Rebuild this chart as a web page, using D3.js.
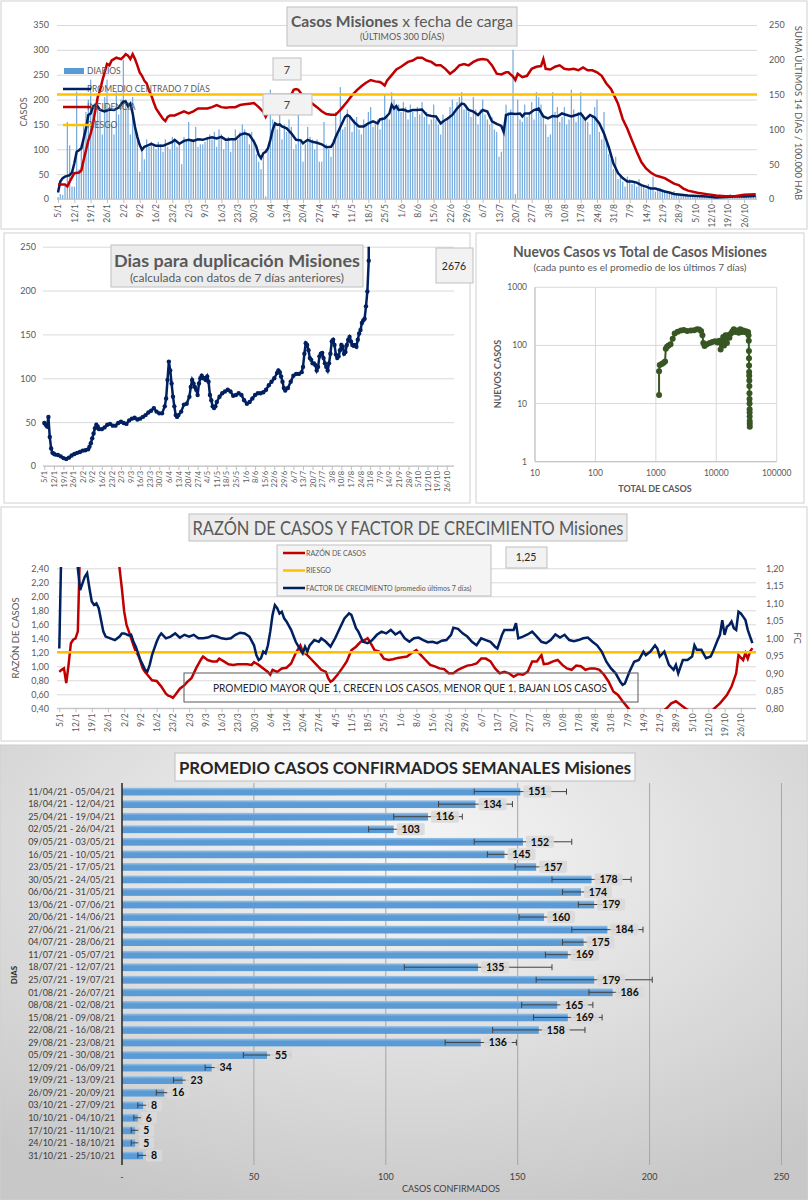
<!DOCTYPE html>
<html lang="es">
<head>
<meta charset="utf-8">
<script src="https://cdn.jsdelivr.net/npm/d3@7"></script>
<style>
body { margin: 0; background: #fff; }
text { font-family: Lato, "Open Sans", sans-serif; }
</style>
</head>
<body>
<div id="chart"></div>
<script>
// ---------- data ----------
const weekTicks = ["5/1","12/1","19/1","26/1","2/2","9/2","16/2","23/2","2/3","9/3","16/3","23/3","30/3","6/4","13/4","20/4","27/4","4/5","11/5","18/5","25/5","1/6","8/6","15/6","22/6","29/6","6/7","13/7","20/7","27/7","3/8","10/8","17/8","24/8","31/8","7/9","14/9","21/9","28/9","5/10","12/10","19/10","26/10"];

// casos diarios, 5/1 .. 31/10 (300 dias)
const diarios = [
  4,10,8,30,155,108,25, 25,216,60,110,150,175,200, 240,190,160,210,175,130,205,
  240,185,150,130,215,170,200, 280,200,195,130,205,150,125, 55,95,80,120,105,115,110,
  100,115,110,95,120,105,100, 125,120,105,110,70,125,120, 155,120,115,145,105,110,110,
  115,125,130,120,135,105,140, 130,100,115,125,95,120,140, 120,135,150,140,130,110,135,
  120,90,75,60,95,5,100, 220,160,150,140,175,120,150, 135,160,145,100,110,170,120,
  75,110,145,125,120,100,120, 75,75,155,110,100,85,120, 175,130,225,140,145,180,165,
  135,160,165,140,130,160,150, 175,185,145,150,160,140,165, 210,165,160,215,200,185,190,
  175,195,185,160,190,175,165, 185,170,195,165,175,150,160, 190,160,150,130,170,155,165,
  185,200,175,195,205,215,180, 190,175,165,205,180,150,180, 200,170,160,150,165,140,135,
  85,95,130,190,175,180,300, 10,200,160,155,190,165,175, 195,160,215,205,190,165,150,
  125,130,215,175,185,155,165, 185,150,160,220,180,155,175, 215,170,160,155,130,165,185,
  200,135,120,175,115,90,80, 60,85,40,50,35,25,45, 40,30,35,25,40,30,28,
  20,30,25,45,15,20,22, 15,18,12,14,10,16,12, 10,8,9,6,7,8,5,
  6,5,7,6,4,8,5, 4,5,3,6,4,3,5, 6,10,4,5,3,6,5, 8,7,10,6,9,6
];

// [dia, valor] promedio centrado 7 dias
const promedio7 = [[0,13],[1,35],[2,42],[3,45],[5,48],[6,53],[7,72],[8,95],[9,98],[10,102],[12,142],[13,169],[14,172],[15,186],[16,189],[17,186],[18,179],[20,176],[22,180],[24,179],[26,184],[28,196],[29,196],[30,187],[31,192],[32,172],[33,145],[34,125],[35,109],[36,99],[37,105],[38,107],[40,111],[42,107],[45,107],[47,111],[49,115],[50,119],[52,111],[54,117],[56,119],[58,117],[60,120],[62,119],[64,122],[66,124],[68,122],[70,125],[72,119],[74,120],[76,120],[78,129],[80,132],[82,129],[84,115],[85,105],[86,89],[87,82],[88,92],[89,95],[90,102],[91,119],[92,139],[93,152],[94,149],[95,150],[96,146],[98,142],[100,132],[102,119],[104,118],[105,112],[107,119],[109,115],[111,113],[113,110],[115,104],[117,105],[118,112],[119,125],[121,145],[123,165],[124,169],[125,166],[127,154],[129,146],[131,146],[133,152],[135,156],[137,152],[138,160],[140,162],[142,172],[143,189],[144,182],[145,187],[146,179],[148,180],[150,176],[152,179],[154,179],[156,180],[158,169],[160,167],[162,166],[164,152],[165,156],[167,162],[169,169],[171,182],[173,192],[174,191],[176,179],[178,176],[180,169],[182,179],[184,176],[186,156],[188,151],[190,147],[191,135],[192,169],[194,172],[196,171],[198,172],[199,166],[200,172],[202,172],[204,179],[206,182],[208,166],[210,162],[212,167],[214,166],[216,172],[218,169],[220,166],[222,169],[224,172],[226,160],[228,169],[230,164],[232,152],[234,132],[236,105],[238,72],[240,52],[242,42],[244,35],[246,35],[248,33],[250,28],[252,25],[254,21],[256,21],[258,18],[260,15],[262,13],[264,10],[266,9],[270,7],[274,6],[278,5],[282,3],[286,4],[290,5],[294,5],[299,6]];

// [dia, valor] incidencia 14 dias / 100.000 hab
const incidencia = [[0,21],[3,21],[4,18],[5,25],[7,37],[9,38],[10,41],[11,56],[13,84],[14,94],[15,108],[16,127],[17,146],[18,156],[19,170],[20,182],[21,194],[22,192],[23,199],[24,201],[25,203],[27,201],[28,204],[29,208],[30,206],[31,201],[32,208],[33,201],[34,192],[35,182],[36,177],[37,170],[38,166],[39,156],[40,149],[41,139],[42,130],[43,125],[44,120],[45,115],[46,112],[47,118],[48,120],[50,120],[52,123],[54,126],[56,123],[58,126],[60,130],[62,130],[64,130],[66,132],[68,135],[70,132],[72,131],[74,132],[76,132],[78,135],[80,136],[82,137],[84,138],[86,132],[88,125],[89,118],[90,125],[92,135],[94,140],[96,142],[98,145],[100,150],[101,157],[102,158],[103,157],[105,148],[107,140],[109,137],[111,132],[113,126],[115,122],[117,121],[119,121],[121,128],[122,132],[124,140],[126,149],[128,156],[130,162],[132,167],[134,171],[136,169],[138,168],[139,166],[140,163],[141,170],[143,178],[145,186],[147,190],[150,197],[152,199],[154,203],[156,203],[158,199],[160,197],[162,192],[164,192],[166,187],[168,180],[170,185],[172,192],[174,194],[176,192],[178,197],[180,200],[182,201],[184,200],[186,192],[188,180],[190,179],[192,182],[193,182],[195,176],[196,171],[197,180],[199,175],[201,177],[203,187],[205,190],[207,191],[208,201],[209,187],[211,186],[213,190],[215,192],[217,187],[219,186],[221,187],[223,185],[225,189],[227,185],[229,185],[231,182],[233,177],[235,166],[237,158],[238,151],[240,137],[242,115],[244,101],[246,84],[248,68],[250,53],[252,44],[254,38],[256,34],[258,32],[260,30],[262,26],[264,22],[266,20],[268,15],[270,12],[274,9],[278,7],[282,5],[286,4],[290,4],[294,6],[299,7]];
const riesgoInc = 150;

// [dia, valor] dias para duplicacion
const duplicacion = [[0,49],[1,47],[2,45],[3,56],[4,33],[5,20],[6,15],[7,14],[8,13],[10,12.5],[12,11],[14,9],[16,8],[18,9.5],[20,12],[22,13.7],[24,15],[26,16],[28,17.5],[30,18],[32,19],[33,22],[34,26],[35,31.5],[36,37],[37,43],[38,47],[39,45],[40,42],[42,42],[44,44],[46,47],[48,48],[50,46],[52,46],[54,49],[56,50.5],[58,49],[60,48],[62,52],[64,54],[66,55],[68,53],[70,54],[72,56],[74,58],[76,61],[78,63],[80,66],[82,62],[84,60],[86,60],[88,68],[89,77],[90,98],[91,119],[92,109],[93,94],[94,79],[95,68],[96,58],[97,56],[98,58],[100,62],[102,70],[104,71],[106,79],[107,90],[108,98],[109,94],[110,90],[111,87],[112,81],[113,94],[114,100],[115,103],[116,100],[117,100],[118,98],[119,102],[120,96],[121,81],[122,75],[123,68],[124,66],[125,68],[126,73],[128,79],[130,83],[132,85],[134,87],[136,85],[138,80],[140,81],[142,83],[144,81],[146,75],[148,71],[150,73],[152,77],[154,81],[156,83],[158,83],[160,84],[162,87],[164,92],[166,96],[168,100],[170,106],[171,109],[172,107],[173,102],[174,96],[175,89],[176,86],[178,89],[180,96],[182,103],[184,105],[186,105],[188,107],[189,113],[190,128],[191,140],[192,138],[193,132],[194,123],[195,121],[196,117],[197,117],[198,115],[199,109],[200,113],[201,125],[202,128],[203,129],[204,123],[205,117],[206,113],[207,109],[208,117],[209,128],[210,142],[211,144],[212,138],[213,127],[214,123],[215,125],[216,132],[217,138],[218,136],[219,128],[220,130],[221,138],[222,144],[223,147],[224,142],[225,138],[226,137],[227,138],[228,136],[229,144],[230,151],[231,155],[232,163],[233,166],[234,168],[235,182],[236,199],[237,234],[238,2676]];
const duplicacionUltimo = "2676";

// nuevos casos (prom. 7 dias) vs total de casos
const scatTotal = [1130,1130,1160,1250,1330,1420,1460,1530,1620,1750,1900,2050,2300,2600,2900,3300,3800,4300,4800,5200,5600,5900,6100,6400,7000,7800,8600,9500,10500,11200,11800,12300,13000,13500,14200,15000,15700,16500,17500,18500,19500,20500,22000,23500,25000,26500,28000,29500,31000,32500,33500,34200,34500,34700,34800,34900,35000,35100,35200,35300,35400,35500,35550,35600,35650,35700,35750,35800,35850];
const scatNuevos = [14,36,46,48,50,53,88,95,100,105,130,160,172,180,185,178,180,182,190,188,178,150,110,98,105,110,115,118,112,120,85,115,140,100,150,110,150,135,160,175,190,170,180,165,190,170,180,170,175,165,170,150,120,80,60,45,35,30,25,20,15,12,10,8,7,6,5,4.5,4];

// [dia, valor] razon de casos (eje izq.)
const razon = [[0,0.92],[1,0.95],[2,0.97],[3,0.76],[4,1.02],[5,1.33],[6,1.38],[7,1.40],[8,1.50],[9,2.8],[11,4.2],[14,5.0],[18,4.5],[22,3.5],[25,2.7],[26,2.4],[27,2.11],[28,1.78],[29,1.59],[30,1.5],[31,1.4],[32,1.30],[33,1.21],[34,1.16],[35,1.07],[36,0.97],[37,0.92],[38,0.88],[40,0.80],[42,0.79],[44,0.71],[46,0.61],[47,0.58],[48,0.57],[49,0.55],[50,0.59],[52,0.68],[54,0.73],[55,0.77],[57,0.83],[59,0.97],[61,1.09],[62,1.14],[64,1.09],[66,1.07],[68,1.07],[69,1.11],[71,1.07],[73,1.03],[75,1.02],[77,1.03],[79,1.03],[81,1.03],[83,1.02],[84,1.06],[86,1.02],[88,0.97],[90,0.92],[91,0.88],[92,0.95],[94,0.92],[96,0.97],[98,0.98],[100,1.04],[102,1.19],[104,1.30],[105,1.21],[107,1.16],[109,1.09],[111,1.02],[113,0.95],[115,0.92],[116,0.83],[117,0.78],[118,0.80],[120,0.88],[122,0.97],[124,1.07],[126,1.23],[128,1.28],[130,1.35],[132,1.38],[133,1.40],[134,1.35],[136,1.23],[138,1.21],[140,1.11],[142,1.09],[144,1.10],[146,1.12],[148,1.13],[150,1.14],[152,1.19],[154,1.23],[156,1.16],[158,1.09],[160,1.02],[162,1.00],[164,0.97],[166,0.96],[168,0.90],[170,0.90],[172,0.95],[174,0.98],[176,1.01],[178,1.02],[180,1.04],[182,1.11],[184,1.11],[186,1.07],[188,0.97],[190,0.90],[192,0.92],[194,0.90],[196,0.85],[198,0.89],[200,0.88],[202,0.92],[204,1.07],[206,1.07],[208,1.16],[209,1.03],[211,1.04],[213,1.07],[215,1.09],[217,1.02],[219,0.97],[221,0.95],[223,1.01],[225,1.00],[227,0.95],[229,0.97],[231,0.97],[233,0.95],[235,0.88],[237,0.78],[239,0.64],[241,0.59],[243,0.50],[245,0.42],[246,0.38],[248,0.30],[252,0.25],[256,0.28],[260,0.35],[262,0.40],[264,0.47],[266,0.50],[268,0.45],[270,0.40],[274,0.32],[278,0.30],[282,0.38],[285,0.47],[288,0.59],[290,0.71],[292,0.90],[293,1.16],[295,1.09],[296,1.19],[297,1.11],[298,1.21],[299,1.26]];
const riesgoRazon = 1.2;
const razonCaja = "1,25";

// [dia, valor] factor de crecimiento (eje der.)
const factorCrec = [[0,0.971],[1,1.30],[7,1.30],[8,1.20],[9,1.138],[10,1.157],[11,1.176],[12,1.186],[13,1.143],[14,1.105],[15,1.095],[16,1.10],[17,1.086],[18,1.052],[19,1.019],[20,1.005],[22,1.0],[24,0.995],[26,1.005],[27,1.014],[28,1.014],[30,1.008],[31,1.01],[32,0.99],[33,0.976],[34,0.957],[35,0.938],[36,0.924],[37,0.91],[38,0.905],[39,0.924],[40,0.952],[41,0.971],[42,0.99],[43,1.005],[44,1.014],[46,1.0],[48,1.005],[50,1.014],[52,1.002],[54,1.01],[56,1.005],[58,1.01],[60,1.0],[62,1.0],[64,1.002],[66,1.008],[68,1.005],[70,1.0],[72,0.998],[74,1.0],[76,1.01],[78,1.016],[80,1.014],[82,1.005],[84,0.98],[85,0.952],[86,0.938],[87,0.943],[88,0.962],[89,0.957],[90,0.98],[91,1.019],[92,1.067],[93,1.095],[94,1.086],[95,1.071],[96,1.076],[97,1.057],[98,1.048],[100,1.024],[102,0.99],[104,0.967],[105,0.957],[106,0.976],[107,0.962],[108,0.98],[110,0.995],[112,0.99],[113,1.0],[115,0.99],[117,0.976],[119,1.0],[121,1.029],[123,1.057],[125,1.071],[126,1.067],[128,1.029],[129,1.019],[131,0.99],[133,0.986],[135,0.995],[137,1.01],[139,1.019],[141,1.014],[143,1.024],[145,1.011],[147,1.019],[149,1.0],[151,0.99],[153,1.0],[155,1.002],[157,0.995],[159,0.989],[161,0.99],[163,0.986],[165,0.993],[167,0.995],[169,1.01],[170,1.03],[172,1.027],[174,1.014],[176,1.005],[178,0.99],[180,0.98],[182,1.0],[184,0.995],[186,0.99],[188,0.976],[189,0.971],[191,1.01],[192,1.024],[194,1.024],[196,1.024],[197,1.043],[198,1.0],[200,1.005],[202,1.011],[204,1.019],[206,1.005],[208,0.99],[210,0.986],[212,0.995],[214,1.011],[216,1.002],[218,1.01],[220,0.995],[222,0.992],[224,0.995],[226,1.0],[228,1.002],[230,0.99],[232,0.98],[234,0.962],[236,0.933],[238,0.914],[240,0.90],[242,0.876],[243,0.867],[244,0.871],[246,0.905],[248,0.933],[250,0.938],[252,0.962],[253,0.952],[255,0.962],[257,0.98],[258,0.971],[259,0.948],[261,0.962],[263,0.924],[265,0.91],[266,0.924],[267,0.90],[269,0.938],[271,0.938],[273,0.948],[274,0.98],[275,0.967],[277,0.967],[279,0.943],[281,0.948],[282,0.962],[284,0.995],[285,1.01],[286,1.052],[287,1.01],[288,1.033],[289,1.038],[290,1.048],[291,1.029],[292,1.024],[293,1.076],[294,1.071],[295,1.062],[296,1.052],[297,1.024],[298,1.005],[299,0.986]];

// promedio semanal
const semanas = ["11/04/21 - 05/04/21","18/04/21 - 12/04/21","25/04/21 - 19/04/21","02/05/21 - 26/04/21","09/05/21 - 03/05/21","16/05/21 - 10/05/21","23/05/21 - 17/05/21","30/05/21 - 24/05/21","06/06/21 - 31/05/21","13/06/21 - 07/06/21","20/06/21 - 14/06/21","27/06/21 - 21/06/21","04/07/21 - 28/06/21","11/07/21 - 05/07/21","18/07/21 - 12/07/21","25/07/21 - 19/07/21","01/08/21 - 26/07/21","08/08/21 - 02/08/21","15/08/21 - 09/08/21","22/08/21 - 16/08/21","29/08/21 - 23/08/21","05/09/21 - 30/08/21","12/09/21 - 06/09/21","19/09/21 - 13/09/21","26/09/21 - 20/09/21","03/10/21 - 27/09/21","10/10/21 - 04/10/21","17/10/21 - 11/10/21","24/10/21 - 18/10/21","31/10/21 - 25/10/21"];
const promSemanal = [151,134,116,103,152,145,157,178,174,179,160,184,175,169,135,179,186,165,169,158,136,55,34,23,16,8,6,5,5,8];
const errSemanal = [17.5,14,13,9.5,18.5,6.5,8,15,7,6,9.5,13.5,8,8.5,28,22,9,13.5,13,17.5,13.5,9,2.5,3.5,3,2,1.5,1.5,1.5,2];
const semTicks = [0,50,100,150,200,250];

// ---------- drawing ----------
const navy = "#002060", red = "#c00000", orange = "#ffc000", blue = "#5b9bd5", green = "#375623";
const gray = "#595959", grid = "#d9d9d9";
const fmtC = v => d3.format(".2f")(v).replace(".", ",");

const svg = d3.select("#chart").append("svg").attr("width", 808).attr("height", 1200);
const defs = svg.append("defs");

function frame(x, y, w, h) {
  svg.append("rect").attr("x", x).attr("y", y).attr("width", w).attr("height", h)
    .attr("fill", "#fff").attr("stroke", "#d0d0d0");
}
function box(x, y, w, h, fill, stroke) {
  return svg.append("rect").attr("x", x).attr("y", y).attr("width", w).attr("height", h)
    .attr("fill", fill || "#ececec").attr("stroke", stroke || "#bfbfbf");
}
function label(x, y, txt, size, opts) {
  opts = opts || {};
  const t = svg.append("text").attr("x", x).attr("y", y).text(txt)
    .attr("font-size", size).attr("fill", opts.fill || gray)
    .attr("text-anchor", opts.anchor || "middle")
    .attr("font-weight", opts.bold ? "bold" : "normal");
  if (opts.len) t.attr("textLength", opts.len).attr("lengthAdjust", "spacingAndGlyphs");
  if (opts.rot) t.attr("transform", `rotate(${opts.rot},${x},${y})`);
  return t;
}
function gridAxis(g, size) {
  g.select(".domain").remove();
  g.selectAll(".tick line").attr("stroke", grid);
  g.selectAll(".tick text").attr("fill", gray).attr("font-size", size);
}
function dayAxis(x, y, size, xa, xb) {
  const g = svg.append("g").attr("transform", `translate(0,${y})`)
    .call(d3.axisBottom(x).tickValues(weekTicks.map((t, i) => i * 7))
      .tickFormat((d, i) => weekTicks[i]).tickSize(4).tickSizeOuter(0));
  g.select(".domain").attr("stroke", "#bfbfbf").attr("d", `M${xa},0H${xb}`);
  g.selectAll(".tick line").attr("stroke", "#bfbfbf");
  g.selectAll(".tick text").attr("fill", gray).attr("font-size", size)
    .attr("transform", "rotate(-90)").attr("text-anchor", "end")
    .attr("x", -5).attr("y", 0).attr("dy", "0.35em");
}
function clip(id, x, y, w, h) {
  defs.append("clipPath").attr("id", id).append("rect")
    .attr("x", x).attr("y", y).attr("width", w).attr("height", h);
  return `url(#${id})`;
}

frame(1, 1, 806, 228);
frame(4, 233, 466, 270);
frame(476, 233, 328, 270);
frame(1, 507, 806, 234);

// ===== panel 1: casos x fecha de carga =====
const x1 = d3.scaleLinear().domain([0, 299]).range([58, 755.7]);
const y1 = d3.scaleLinear().domain([0, 350]).range([199, 25]);
const y1r = d3.scaleLinear().domain([0, 250]).range([199, 25]);

svg.append("g").attr("transform", "translate(57,0)")
  .call(d3.axisLeft(y1).ticks(7).tickSize(-700).tickPadding(8)).call(g => gridAxis(g, 9));
svg.append("g").attr("transform", "translate(757,0)")
  .call(d3.axisRight(y1r).ticks(5).tickSize(0).tickPadding(12)).call(g => gridAxis(g, 9));

svg.append("g").selectAll("rect").data(diarios).join("rect")
  .attr("x", (d, i) => x1(i) - 0.6).attr("width", 1.2)
  .attr("y", d => y1(d)).attr("height", d => y1(0) - y1(d)).attr("fill", "#73a9dd");

dayAxis(x1, 199, 8.5, 57, 757);

svg.append("path").datum(promedio7).attr("fill", "none").attr("stroke", navy).attr("stroke-width", 2.5)
  .attr("d", d3.line().x(d => x1(d[0])).y(d => y1(d[1])));
svg.append("path").datum(incidencia).attr("fill", "none").attr("stroke", red).attr("stroke-width", 2.5)
  .attr("d", d3.line().x(d => x1(d[0])).y(d => y1r(d[1])));
svg.append("line").attr("x1", 57).attr("x2", 757).attr("y1", y1r(riesgoInc)).attr("y2", y1r(riesgoInc))
  .attr("stroke", orange).attr("stroke-width", 2.5);

label(27, 112, "CASOS", 9, { rot: -90 });
label(795, 113, "SUMA  ÚLTIMOS 14 DÍAS / 100.000 HAB", 9.5, { rot: 90 });

box(287, 7, 230, 39);
const t1 = label(402, 27, "", 16, { len: 222 });
t1.append("tspan").attr("font-weight", "bold").text("Casos  Misiones");
t1.append("tspan").text("  x fecha  de carga");
label(402, 40, "(ÚLTIMOS 300 DÍAS)", 9);

const leg1 = ["DIARIOS", "PROMEDIO CENTRADO 7 DÍAS", "INCIDENCIA", "RIESGO"];
const legCol1 = [blue, navy, red, orange];
leg1.forEach((t, i) => {
  const yy = 71 + i * 18;
  label(87, yy + 3, t, 8.5, { anchor: "start" });
  if (i === 0) svg.append("rect").attr("x", 64).attr("y", yy - 3).attr("width", 20).attr("height", 6).attr("fill", blue);
  else svg.append("line").attr("x1", 63).attr("x2", 91).attr("y1", yy).attr("y2", yy)
    .attr("stroke", legCol1[i]).attr("stroke-width", 2.5);
});

box(273, 58, 28, 22, "#f2f2f2");
label(287, 74, "7", 11, { fill: "#404040" });
box(263, 94, 49, 21, "#f2f2f2");
label(287, 109, "7", 11, { fill: "#404040" });

// ===== panel 2: dias para duplicacion =====
const x2 = d3.scaleLinear().domain([0, 299]).range([44.3, 453.6]);
const y2 = d3.scaleLinear().domain([0, 250]).range([466, 246.7]);

svg.append("g").attr("transform", "translate(43,0)")
  .call(d3.axisLeft(y2).ticks(5).tickSize(-411).tickPadding(7)).call(g => gridAxis(g, 9));
dayAxis(x2, 466, 7.5, 43, 454);

const cp2 = clip("cp2", 40, 246.7, 420, 222);
const g2 = svg.append("g").attr("clip-path", cp2);
g2.append("path").datum(duplicacion).attr("fill", "none").attr("stroke", navy).attr("stroke-width", 2.5)
  .attr("d", d3.line().x(d => x2(d[0])).y(d => y2(d[1])));
g2.selectAll("circle").data(duplicacion).join("circle")
  .attr("cx", d => x2(d[0])).attr("cy", d => y2(d[1])).attr("r", 2.2).attr("fill", navy);

box(111, 245, 252, 42, "#ececec");
label(237, 267, "Dias para duplicación Misiones", 17, { bold: true, len: 246 });
label(237, 282, "(calculada con datos de 7 días anteriores)", 11, { len: 214 });
box(436, 248, 37, 35, "#f2f2f2");
label(454, 270, duplicacionUltimo, 10.5, { fill: "#262626" });

// ===== panel 3: nuevos vs total =====
const x3 = d3.scaleLog().domain([10, 1e5]).range([535, 776.7]);
const y3 = d3.scaleLog().domain([1, 1000]).range([461.7, 287.3]);
const g3 = svg.append("g");
g3.selectAll(".gx").data([10, 100, 1000, 10000, 100000]).join("line")
  .attr("x1", d => x3(d)).attr("x2", d => x3(d)).attr("y1", 287.3).attr("y2", 461.7).attr("stroke", grid);
g3.selectAll(".gy").data([1, 10, 100, 1000]).join("line")
  .attr("y1", d => y3(d)).attr("y2", d => y3(d)).attr("x1", 535).attr("x2", 776.7).attr("stroke", grid);
g3.append("line").attr("x1", 535).attr("x2", 776.7).attr("y1", 461.7).attr("y2", 461.7).attr("stroke", "#bfbfbf");
g3.append("line").attr("x1", 535).attr("x2", 535).attr("y1", 287.3).attr("y2", 461.7).attr("stroke", "#bfbfbf");
[10, 100, 1000, 10000, 100000].forEach(v => label(x3(v), 476, d3.format("d")(v), 8.5));
[1, 10, 100, 1000].forEach(v => label(527, y3(v) + 3, d3.format("d")(v), 8.5, { anchor: "end" }));
g3.append("path").datum(scatTotal.map((t, i) => [t, scatNuevos[i]])).attr("fill", "none")
  .attr("stroke", green).attr("stroke-width", 2)
  .attr("d", d3.line().x(d => x3(d[0])).y(d => y3(d[1])));
g3.selectAll("circle").data(scatTotal).join("circle")
  .attr("cx", d => x3(d)).attr("cy", (d, i) => y3(scatNuevos[i])).attr("r", 3).attr("fill", green);
label(640, 257, "Nuevos Casos vs Total de Casos Misiones", 14.5, { bold: true, len: 254 });
label(640, 271, "(cada punto es el promedio de los últimos 7 días)", 9.5, { len: 213 });
label(655, 492, "TOTAL DE CASOS", 9, { bold: true });
label(501, 374, "NUEVOS  CASOS", 9, { bold: true, rot: -90 });

// ===== panel 4: razon de casos y factor de crecimiento =====
const x4 = d3.scaleLinear().domain([0, 299]).range([59.3, 752.4]);
const y4 = d3.scaleLinear().domain([0.4, 2.4]).range([708.3, 568.3]);
const y4r = d3.scaleLinear().domain([0.8, 1.2]).range([708.3, 568.3]);

svg.append("g").attr("transform", "translate(57,0)")
  .call(d3.axisLeft(y4).ticks(10).tickFormat(fmtC).tickSize(-699).tickPadding(8)).call(g => gridAxis(g, 9));
svg.append("g").attr("transform", "translate(756,0)")
  .call(d3.axisRight(y4r).ticks(8).tickFormat(fmtC).tickSize(0).tickPadding(10)).call(g => gridAxis(g, 9));
dayAxis(x4, 708.3, 8.5, 57, 756);

const cp4 = clip("cp4", 57, 567, 700, 142);
const g4 = svg.append("g").attr("clip-path", cp4);
g4.append("path").datum(razon).attr("fill", "none").attr("stroke", red).attr("stroke-width", 2.5)
  .attr("d", d3.line().x(d => x4(d[0])).y(d => y4(d[1])));
g4.append("line").attr("x1", 57).attr("x2", 756).attr("y1", y4(riesgoRazon)).attr("y2", y4(riesgoRazon))
  .attr("stroke", orange).attr("stroke-width", 2.5);
g4.append("path").datum(factorCrec).attr("fill", "none").attr("stroke", navy).attr("stroke-width", 2.5)
  .attr("d", d3.line().x(d => x4(d[0])).y(d => y4r(d[1])));

label(19, 638, "RAZÓN  DE CASOS", 9.5, { rot: -90 });
label(794, 638, "FC", 9.5, { rot: 90 });

box(189, 514, 438, 27, "#ececec");
label(408, 535, "RAZÓN DE CASOS Y FACTOR DE CRECIMIENTO Misiones", 18.5, { len: 431 });

box(277, 545, 214, 51, "#f4f4f4");
const leg4 = ["RAZÓN DE CASOS", "RIESGO", "FACTOR DE CRECIMIENTO (promedio últimos 7 días)"];
const legCol4 = [red, orange, navy];
leg4.forEach((t, i) => {
  const yy = 553 + i * 17.5;
  svg.append("line").attr("x1", 283).attr("x2", 305).attr("y1", yy).attr("y2", yy)
    .attr("stroke", legCol4[i]).attr("stroke-width", 2.5);
  label(306, yy + 2.5, t, 7, { anchor: "start" });
});
box(506, 547, 41, 21, "#f2f2f2");
label(526, 561, razonCaja, 10.5, { fill: "#262626" });

svg.append("rect").attr("x", 184).attr("y", 673).attr("width", 454).attr("height", 29)
  .attr("fill", "none").attr("stroke", "#595959");
label(410, 692, "PROMEDIO MAYOR QUE 1, CRECEN LOS CASOS, MENOR QUE 1, BAJAN LOS CASOS", 11.5, { fill: "#262626", len: 394 });

// ===== panel 5: promedio casos confirmados semanales =====
const rg = defs.append("radialGradient").attr("id", "bg5").attr("cx", "50%").attr("cy", "25%").attr("r", "80%");
rg.append("stop").attr("offset", "0%").attr("stop-color", "#f7f7f7");
rg.append("stop").attr("offset", "100%").attr("stop-color", "#c8c8c8");
const lg = defs.append("linearGradient").attr("id", "bar5").attr("x1", 0).attr("x2", 0).attr("y1", 0).attr("y2", 1);
lg.append("stop").attr("offset", "0%").attr("stop-color", "#9cc3e6");
lg.append("stop").attr("offset", "35%").attr("stop-color", "#5b9bd5");
lg.append("stop").attr("offset", "100%").attr("stop-color", "#5b9bd5");

svg.append("rect").attr("x", 0).attr("y", 745).attr("width", 808).attr("height", 455)
  .attr("fill", "url(#bg5)").attr("stroke", "#d0d0d0");

const x5 = d3.scaleLinear().domain([0, 250]).range([122, 781.5]);
const y5 = d3.scaleBand().domain(semanas).range([782.95, 1164.05]).padding(0.38);

svg.append("g").selectAll("line").data(semTicks.slice(1)).join("line")
  .attr("x1", d => x5(d)).attr("x2", d => x5(d)).attr("y1", 783).attr("y2", 1165).attr("stroke", "#a6a6a6");
semTicks.forEach(v => label(x5(v), 1180, v === 0 ? "-" : String(v), 9, { fill: "#404040" }));

svg.append("g").selectAll("rect").data(promSemanal).join("rect")
  .attr("x", x5(0)).attr("y", (d, i) => y5(semanas[i]))
  .attr("width", d => x5(d) - x5(0)).attr("height", y5.bandwidth()).attr("fill", "url(#bar5)");

svg.append("line").attr("x1", x5(0)).attr("x2", x5(0)).attr("y1", 783).attr("y2", 1165)
  .attr("stroke", "#262626").attr("stroke-width", 1.5);

semanas.forEach((s, i) => label(115, y5(s) + y5.bandwidth() / 2 + 3.2, s, 9, { anchor: "end", fill: "#404040" }));

const eb = svg.append("g").attr("stroke", "#404040").attr("stroke-width", 1);
promSemanal.forEach((v, i) => {
  const cy = y5(semanas[i]) + y5.bandwidth() / 2;
  const a = x5(v - errSemanal[i]), b = x5(v + errSemanal[i]);
  eb.append("line").attr("x1", a).attr("x2", b).attr("y1", cy).attr("y2", cy);
  eb.append("line").attr("x1", a).attr("x2", a).attr("y1", cy - 3).attr("y2", cy + 3);
  eb.append("line").attr("x1", b).attr("x2", b).attr("y1", cy - 3).attr("y2", cy + 3);
});
promSemanal.forEach((v, i) => {
  const cy = y5(semanas[i]) + y5.bandwidth() / 2;
  const w = String(v).length * 6 + 10;
  svg.append("rect").attr("x", x5(v) + 3).attr("y", cy - 6).attr("width", w).attr("height", 12)
    .attr("rx", 2).attr("fill", "#d9d9d9").attr("opacity", 0.9);
  label(x5(v) + 3 + w / 2, cy + 3.8, String(v), 10.5, { bold: true, fill: "#0d0d0d" });
});

box(175, 753, 460, 28, "#f8f8f8", "#bfbfbf");
label(405, 774, "PROMEDIO CASOS CONFIRMADOS SEMANALES Misiones", 17, { bold: true, fill: "#262626", len: 452 });
label(17, 975, "DIAS", 8, { bold: true, fill: "#262626", rot: -90 });
label(451, 1192, "CASOS CONFIRMADOS", 9, { fill: "#404040" });
</script>
</body>
</html>
